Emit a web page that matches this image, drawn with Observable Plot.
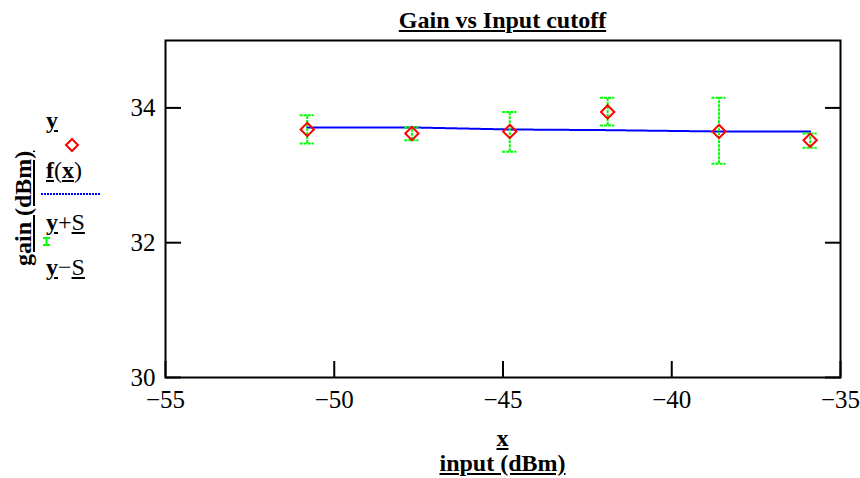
<!DOCTYPE html>
<html><head><meta charset="utf-8">
<script src="https://cdn.jsdelivr.net/npm/d3@7"></script>
<script src="https://cdn.jsdelivr.net/npm/@observablehq/plot@0.6"></script>
<style>
body{margin:0;background:#fff;}
#wrap{position:relative;width:860px;height:478px;font-family:"Liberation Serif","Times New Roman",serif;color:#000;}
#wrap svg.plot{position:absolute;left:0;top:0;}
#wrap svg.plot text{font-family:"Liberation Serif","Times New Roman",serif;}
.t{position:absolute;white-space:nowrap;line-height:1;}
.b{font-weight:bold;}
.u{text-decoration:underline;text-underline-offset:2px;}
</style></head>
<body><div id="wrap"></div>
<script>
const inputX = [-50.8, -47.7, -44.8, -41.9, -38.6, -35.9];
const gainY  = [33.68, 33.62, 33.65, 33.94, 33.65, 33.52];
const upper  = [33.89, 33.71, 33.94, 34.15, 34.15, 33.62];
const lower  = [33.47, 33.52, 33.35, 33.74, 33.17, 33.41];
const fitY   = [33.71, 33.71, 33.68, 33.67, 33.65, 33.65];
const xTicks = [-55, -50, -45, -40, -35];
const yTicks = [30, 32, 34];

const data = inputX.map((x, i) => ({x, y: gainY[i], hi: upper[i], lo: lower[i], f: fitY[i]}));
const capHalf = 0.21;
const fmt = d => (d < 0 ? "\u2212" : "") + Math.abs(d);

const plot = Plot.plot({
  width: 860, height: 478,
  marginLeft: 165, marginRight: 20, marginTop: 40, marginBottom: 101,
  style: {fontSize: "25px", color: "#000", background: "#fff"},
  x: {domain: [-55, -35], ticks: xTicks, label: null},
  y: {domain: [30, 35], ticks: yTicks, label: null},
  marks: [
    Plot.axisX({ticks: xTicks, tickSize: -16, tickPadding: 29, strokeWidth: 2, fontSize: 25, tickFormat: fmt, label: null}),
    Plot.axisY({ticks: yTicks, tickSize: -16, tickPadding: 26, strokeWidth: 2, fontSize: 25, tickFormat: fmt, label: null}),
    Plot.axisY({ticks: yTicks, anchor: "right", tickSize: -16, strokeWidth: 2, tickFormat: () => "", label: null}),
    Plot.line(data, {x: "x", y: "f", stroke: "#0000ff", strokeWidth: 2, strokeDasharray: "2,1"}),
    Plot.ruleX(data, {x: "x", y1: "lo", y2: "hi", stroke: "#00ff00", strokeWidth: 2, strokeDasharray: "3,1"}),
    Plot.ruleY(data, {y: "hi", x1: d => d.x - capHalf, x2: d => d.x + capHalf, stroke: "#00ff00", strokeWidth: 2, strokeDasharray: "3,1"}),
    Plot.ruleY(data, {y: "lo", x1: d => d.x - capHalf, x2: d => d.x + capHalf, stroke: "#00ff00", strokeWidth: 2, strokeDasharray: "3,1"}),
    Plot.dot(data, {x: "x", y: "y", symbol: "diamond2", r: 6, stroke: "#ff0000", strokeWidth: 2, fill: "none"}),
    Plot.frame({stroke: "#000", strokeWidth: 2})
  ]
});
plot.classList.add("plot");
const wrap = document.getElementById("wrap");
wrap.appendChild(plot);

wrap.insertAdjacentHTML("beforeend", `
<div class="t b u" style="left:0;width:1005px;text-align:center;top:8px;font-size:24px;">Gain vs Input cutoff</div>
<div class="t b u" style="left:0;width:1005px;text-align:center;top:426px;font-size:24px;">x</div>
<div class="t b u" style="left:0;width:1005px;text-align:center;top:451px;font-size:24px;">input (dBm)</div>
<div class="t b u" style="left:11px;top:266px;font-size:24px;transform:rotate(-90deg);transform-origin:0 0;">gain (dBm)</div>
<div class="t" style="left:46px;top:108px;font-size:24px;"><span class="b u">y</span></div>
<svg class="t" style="left:62px;top:136px;" width="20" height="18"><path d="M10,3 L16,9 L10,15 L4,9 Z" fill="none" stroke="#ff0000" stroke-width="2"/></svg>
<div class="t" style="left:46px;top:158px;font-size:24px;"><span class="b u">f</span>(<span class="b u">x</span>)</div>
<svg class="t" style="left:40px;top:190px;" width="62" height="8"><line x1="1" y1="4" x2="61" y2="4" stroke="#0000ff" stroke-width="2" stroke-dasharray="2,1"/></svg>
<div class="t" style="left:46px;top:210px;font-size:24px;"><span class="b u">y</span>+<span class="u">S</span></div>
<svg class="t" style="left:42px;top:236px;" width="10" height="12"><path d="M1,2 H8 M4.5,2 V9 M1,9 H8" fill="none" stroke="#00ff00" stroke-width="2"/></svg>
<div class="t" style="left:46px;top:255px;font-size:24px;"><span class="b u">y</span>−<span class="u">S</span></div>
`);
</script></body></html>
